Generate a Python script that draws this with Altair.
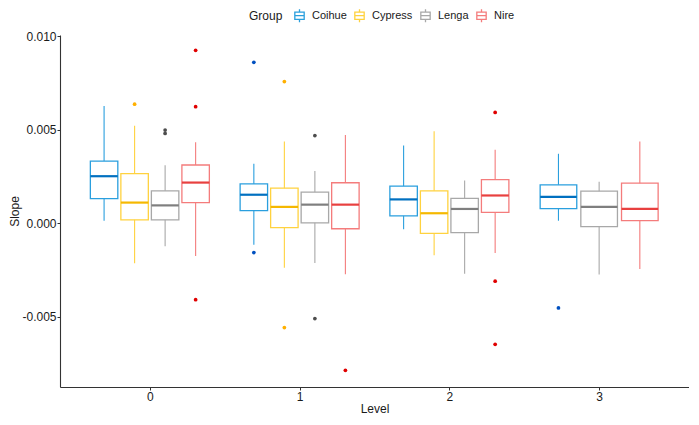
import altair as alt
import pandas as pd

groups = ["Coihue", "Cypress", "Lenga", "Nire"]
box_colors = ["#2A9FDE", "#FFD23F", "#A8A8A8", "#F47C7C"]
median_colors = ["#0070C0", "#F5B800", "#7F7F7F", "#E8403F"]
outlier_colors = ["#0050C0", "#FFB000", "#4D4D4D", "#E00000"]

box_level = [0, 0, 0, 0, 1, 1, 1, 1, 2, 2, 2, 2, 3, 3, 3]
box_group = ["Coihue", "Cypress", "Lenga", "Nire",
             "Coihue", "Cypress", "Lenga", "Nire",
             "Coihue", "Cypress", "Lenga", "Nire",
             "Coihue", "Lenga", "Nire"]
whisker_low = [0.00013, -0.00215, -0.00123, -0.00176,
               -0.00116, -0.00238, -0.00213, -0.00273,
               -0.00032, -0.00171, -0.00270, -0.00160,
               0.00013, -0.00275, -0.00245]
q1 = [0.00131, 0.00018, 0.00018, 0.00110,
      0.00067, -0.00024, 0.00002, -0.00030,
      0.00039, -0.00055, -0.00051, 0.00058,
      0.00078, -0.00019, 0.00014]
median = [0.00251, 0.00110, 0.00095, 0.00217,
          0.00152, 0.00087, 0.00099, 0.00099,
          0.00127, 0.00053, 0.00076, 0.00148,
          0.00140, 0.00087, 0.00076]
q3 = [0.00332, 0.00265, 0.00173, 0.00311,
      0.00210, 0.00187, 0.00166, 0.00216,
      0.00198, 0.00173, 0.00132, 0.00233,
      0.00205, 0.00171, 0.00214]
whisker_high = [0.00627, 0.00521, 0.00309, 0.00433,
                0.00318, 0.00436, 0.00279, 0.00471,
                0.00415, 0.00491, 0.00228, 0.00392,
                0.00371, 0.00221, 0.00436]

out_level = [0, 0, 0, 0, 0, 0,
             1, 1, 1, 1, 1, 1, 1,
             2, 2, 2,
             3]
out_group = ["Cypress", "Lenga", "Lenga", "Nire", "Nire", "Nire",
             "Coihue", "Coihue", "Cypress", "Cypress", "Lenga", "Lenga", "Nire",
             "Nire", "Nire", "Nire",
             "Coihue"]
out_value = [0.00636, 0.00498, 0.00480, 0.00924, 0.00623, -0.00409,
             0.00860, -0.00157, 0.00757, -0.00558, 0.00468, -0.00510, -0.00787,
             0.00592, -0.00310, -0.00648,
             -0.00453]

DODGE = 0.815
BOXFRAC = 0.9

# dodge positions (like ggplot position_dodge2 per level)
present = {}
for lv, g in zip(box_level, box_group):
    present.setdefault(lv, []).append(g)

def xpos(lv, g):
    gs = present[lv]
    n = len(gs)
    i = gs.index(g)
    step = DODGE / n
    return lv + (i - (n - 1) / 2) * step, step * BOXFRAC / 2

rows = []
for k in range(len(box_level)):
    lv, g = box_level[k], box_group[k]
    c, hw = xpos(lv, g)
    gi = groups.index(g)
    rows.append(dict(Level=lv, Group=g, xc=c, xl=c - hw, xr=c + hw,
                     lo=whisker_low[k], q1=q1[k], med=median[k], q3=q3[k],
                     hi=whisker_high[k], mcol=median_colors[gi]))
boxes = pd.DataFrame(rows)

orows = []
for lv, g, v in zip(out_level, out_group, out_value):
    c, hw = xpos(lv, g)
    orows.append(dict(Level=lv, Group=g, xc=c, v=v,
                      ocol=outlier_colors[groups.index(g)]))
outs = pd.DataFrame(orows)

xscale = alt.Scale(domain=[-0.6, 3.6], nice=False, zero=False)
yscale = alt.Scale(domain=[-0.00876, 0.01006], nice=False, zero=False)

xaxis = alt.Axis(values=[0, 1, 2, 3], format="d", title="Level", grid=False)
yaxis = alt.Axis(values=[-0.005, 0.0, 0.005, 0.010], grid=False, title="Slope",
                 labelExpr="replace(format(datum.value, '.3f'), '\u2212', '-')")

stroke_enc = alt.Stroke("Group:N",
                        scale=alt.Scale(domain=groups, range=box_colors),
                        legend=alt.Legend(title="Group", orient="none",
                                          direction="horizontal",
                                          titleOrient="left",
                                          legendX=189, legendY=-27))

base = alt.Chart(boxes)

whisk = base.mark_rule(strokeWidth=1.1).encode(
    x=alt.X("xc:Q", scale=xscale, axis=xaxis),
    y=alt.Y("lo:Q", scale=yscale, axis=yaxis),
    y2="hi:Q",
    stroke=stroke_enc,
)

box = base.mark_rect(fill="white", strokeWidth=1.3).encode(
    x="xl:Q", x2="xr:Q", y="q1:Q", y2="q3:Q",
    stroke=stroke_enc,
)

med = base.mark_rule(strokeWidth=2.2).encode(
    x="xl:Q", x2="xr:Q", y="med:Q",
    color=alt.Color("mcol:N", scale=None, legend=None),
)

pts = alt.Chart(outs).mark_circle(size=14, opacity=1).encode(
    x="xc:Q", y="v:Q",
    color=alt.Color("ocol:N", scale=None, legend=None),
)

SYM = "M-0.72,-0.55H0.72V0.55H-0.72Z M0,-1V-0.55 M0,0.55V1 M-0.72,0H0.72"

chart = alt.layer(whisk, box, med, pts).properties(
    width=629, height=352,
    padding={"left": 0, "top": 0, "right": 0, "bottom": 0},
).configure_view(stroke=None).configure_axis(
    domainColor="#333333", domainWidth=1.1, tickColor="#333333", tickSize=3,
    labelFont="Liberation Sans", labelFontSize=12, labelColor="#1a1a1a",
    titleFont="Liberation Sans", titleFontSize=12, titleFontWeight="normal",
    titleColor="#1a1a1a", labelPadding=2,
).configure_axisY(titlePadding=0, labelPadding=1).configure_axisX(titlePadding=1, labelPadding=1).configure_legend(
    symbolType=SYM, symbolSize=169, symbolStrokeWidth=1.3,
    symbolFillColor="transparent",
    labelFont="Liberation Sans", labelFontSize=11, labelColor="#1a1a1a",
    titleFont="Liberation Sans", titleFontSize=12, titleFontWeight="normal",
    titleColor="#1a1a1a", columnPadding=5, labelOffset=5, titlePadding=9,
    padding=0,
)

chart.save("out.html", embed_options={"renderer": "svg", "actions": False})
